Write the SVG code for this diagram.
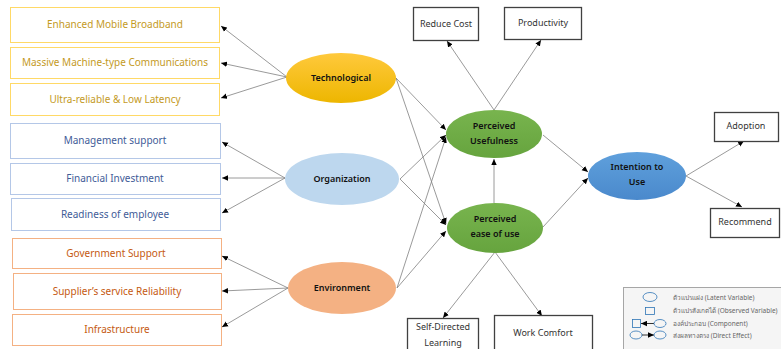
<svg xmlns="http://www.w3.org/2000/svg" width="781" height="349" viewBox="0 0 781 349">
<defs>
<marker id="arr" viewBox="0 0 10 10" refX="10" refY="5" markerWidth="6" markerHeight="6" markerUnits="userSpaceOnUse" orient="auto">
<path d="M0,0.5 L10,5 L0,9.5 z" fill="#000"/>
</marker>
<linearGradient id="gY" x1="0" y1="0" x2="0" y2="1"><stop offset="0" stop-color="#FFC93C"/><stop offset="1" stop-color="#EDB600"/></linearGradient>
<linearGradient id="gG" x1="0" y1="0" x2="0" y2="1"><stop offset="0" stop-color="#78B44E"/><stop offset="1" stop-color="#66A43E"/></linearGradient>
<linearGradient id="gB" x1="0" y1="0" x2="0" y2="1"><stop offset="0" stop-color="#5FA0DC"/><stop offset="1" stop-color="#4A89CC"/></linearGradient>
</defs>
<style>
text{font-family:"Noto Sans","Open Sans","DejaVu Sans",sans-serif;text-anchor:middle}
.bx{fill:#fff;stroke-width:1}
.y{stroke:#FFD966}.yt{fill:#C49A1E;font-size:10px}
.b{stroke:#B4C7E7}.bt{fill:#3F5C98;font-size:10px}
.o{stroke:#F4B183}.ot{fill:#C55A11;font-size:10px}
.lv{font-size:9px;fill:#111;font-weight:600}
.ob{fill:#fff;stroke:#404040;stroke-width:1.3}
.obt{font-size:9px;fill:#333}
.c line{stroke:#808080;stroke-width:0.8;marker-end:url(#arr)}
.lg{font-size:6.5px;fill:#666;text-anchor:start}
.ls{fill:none;stroke:#2E75B6;stroke-width:0.8}
</style>

<g id="connectors" class="c">
<line x1="287" y1="77" x2="221" y2="26"/>
<line x1="287" y1="77" x2="221" y2="63"/>
<line x1="287" y1="77" x2="221" y2="98"/>
<line x1="285" y1="178" x2="222" y2="142"/>
<line x1="285" y1="178" x2="222" y2="178"/>
<line x1="285" y1="178" x2="222" y2="213"/>
<line x1="288" y1="288" x2="222" y2="256"/>
<line x1="288" y1="288" x2="222" y2="291"/>
<line x1="288" y1="288" x2="222" y2="327"/>
<line x1="396" y1="78" x2="446" y2="130"/>
<line x1="396" y1="78" x2="446" y2="224"/>
<line x1="400" y1="179" x2="446" y2="135"/>
<line x1="400" y1="179" x2="446" y2="225"/>
<line x1="397" y1="288" x2="446" y2="137"/>
<line x1="397" y1="288" x2="446" y2="231"/>
<line x1="494" y1="110" x2="447" y2="41"/>
<line x1="494" y1="110" x2="541" y2="40"/>
<line x1="494" y1="203" x2="494" y2="159"/>
<line x1="543" y1="135" x2="588" y2="172"/>
<line x1="543" y1="227" x2="588" y2="178"/>
<line x1="495" y1="252" x2="443" y2="318"/>
<line x1="495" y1="252" x2="542" y2="316"/>
<line x1="686" y1="176" x2="744" y2="141"/>
<line x1="686" y1="176" x2="742" y2="207"/>
</g>

<g id="n-embb"><rect class="bx y" x="10.5" y="7.5" width="209" height="35"/><text class="yt" x="115" y="28">Enhanced Mobile Broadband</text></g>
<g id="n-mmtc"><rect class="bx y" x="10.5" y="47.5" width="209" height="31"/><text class="yt" x="115" y="66">Massive Machine-type Communications</text></g>
<g id="n-urllc"><rect class="bx y" x="10.5" y="83.5" width="209" height="32"/><text class="yt" x="115" y="103">Ultra-reliable &amp; Low Latency</text></g>

<g id="n-mgmt"><rect class="bx b" x="10.5" y="123.5" width="210" height="35"/><text class="bt" x="115" y="144">Management support</text></g>
<g id="n-fin"><rect class="bx b" x="10.5" y="163.5" width="210" height="31"/><text class="bt" x="115" y="182">Financial Investment</text></g>
<g id="n-ready"><rect class="bx b" x="11.5" y="198.5" width="209" height="32"/><text class="bt" x="115" y="218">Readiness of employee</text></g>

<g id="n-gov"><rect class="bx o" x="12.5" y="238.5" width="209" height="30"/><text class="ot" x="116" y="257">Government Support</text></g>
<g id="n-supp"><rect class="bx o" x="13.5" y="273.5" width="208" height="36"/><text class="ot" x="117" y="295">Supplier’s service Reliability</text></g>
<g id="n-infra"><rect class="bx o" x="12.5" y="314.5" width="209" height="31"/><text class="ot" x="117" y="333">Infrastructure</text></g>

<g id="n-tech"><ellipse cx="341" cy="78" rx="55" ry="25" fill="url(#gY)"/><text class="lv" x="341" y="81">Technological</text></g>
<g id="n-org"><ellipse cx="342" cy="179" rx="57" ry="26" fill="#BDD7EE"/><text class="lv" x="342" y="182">Organization</text></g>
<g id="n-env"><ellipse cx="342" cy="288" rx="54" ry="26" fill="#F4B183"/><text class="lv" x="342" y="291">Environment</text></g>

<g id="n-pu"><ellipse cx="494" cy="134" rx="48" ry="24" fill="url(#gG)"/><text class="lv" x="494" y="129">Perceived</text><text class="lv" x="494" y="144">Usefulness</text></g>
<g id="n-peu"><ellipse cx="495" cy="228" rx="48" ry="25" fill="url(#gG)"/><text class="lv" x="495" y="222">Perceived</text><text class="lv" x="495" y="237">ease of use</text></g>
<g id="n-itu"><ellipse cx="637" cy="176" rx="49" ry="24" fill="url(#gB)"/><text class="lv" x="637" y="170">Intention to</text><text class="lv" x="637" y="185">Use</text></g>

<g id="n-cost"><rect class="ob" x="413.5" y="7.5" width="65" height="33"/><text class="obt" x="446" y="27">Reduce Cost</text></g>
<g id="n-prod"><rect class="ob" x="504.5" y="7.5" width="77" height="32"/><text class="obt" x="543" y="26">Productivity</text></g>
<g id="n-adopt"><rect class="ob" x="714.5" y="112.5" width="64" height="29"/><text class="obt" x="746" y="129">Adoption</text></g>
<g id="n-rec"><rect class="ob" x="710.5" y="208.5" width="69" height="29"/><text class="obt" x="745" y="225">Recommend</text></g>
<g id="n-sdl"><rect class="ob" x="407.5" y="318.5" width="71" height="34"/><text class="obt" x="443" y="330">Self-Directed</text><text class="obt" x="443" y="346">Learning</text></g>
<g id="n-wc"><rect class="ob" x="494.5" y="315.5" width="98" height="38"/><text class="obt" x="543" y="336">Work Comfort</text></g>

<g id="legend">
<rect x="623.5" y="287.5" width="160" height="65" fill="#F5F5F5" stroke="#A6A6A6" stroke-width="1"/>
<ellipse class="ls" cx="650" cy="297" rx="7" ry="4.5"/>
<rect class="ls" x="645.5" y="307.5" width="9" height="7"/>
<rect class="ls" x="632.5" y="319.5" width="8" height="8"/>
<line x1="654" y1="323.5" x2="641" y2="323.5" stroke="#000" stroke-width="0.8" marker-end="url(#arr)"/>
<ellipse class="ls" cx="660" cy="323.5" rx="6" ry="4"/>
<ellipse class="ls" cx="636" cy="335" rx="6" ry="4"/>
<line x1="642" y1="335" x2="654" y2="335" stroke="#000" stroke-width="0.8" marker-end="url(#arr)"/>
<ellipse class="ls" cx="660" cy="335" rx="6" ry="4"/>
<text class="lg" x="673" y="299.5">ตัวแปรแฝง (Latent Variable)</text>
<text class="lg" x="673" y="313">ตัวแปรสังเกตได้ (Observed Variable)</text>
<text class="lg" x="673" y="326">องค์ประกอบ (Component)</text>
<text class="lg" x="673" y="337.5">ส่งผลทางตรง (Direct Effect)</text>
</g>
</svg>
